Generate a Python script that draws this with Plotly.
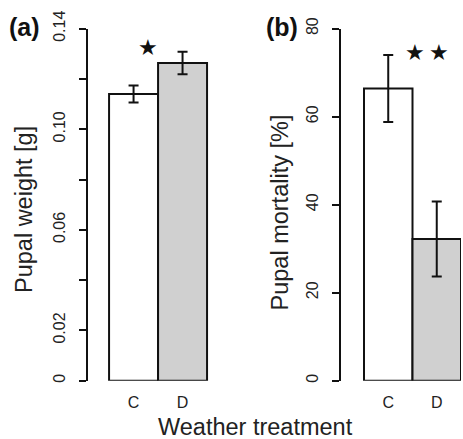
import plotly.graph_objects as go

categories = ["C", "D"]
weight_vals = [0.114, 0.1263]
weight_err = [0.0034, 0.0045]
mort_vals = [66.4, 32.2]
mort_err = [7.6, 8.5]
bar_colors = ["#ffffff", "#d0d0d0"]
weight_ticks = [0, 0.02, 0.04, 0.06, 0.08, 0.10, 0.12, 0.14]
weight_ticklabels = ["0", "0.02", "", "0.06", "", "0.10", "", "0.14"]
mort_ticks = [0, 20, 40, 60, 80]
mort_ticklabels = ["0", "20", "40", "60", "80"]

W, H = 463, 439
FONT = "Liberation Sans, Arial, Helvetica, sans-serif"

fig = go.Figure()
fig.add_trace(go.Bar(
    x=[0, 1], y=weight_vals, width=1,
    marker=dict(color=bar_colors, line=dict(color="#111111", width=2)),
    error_y=dict(type="data", array=weight_err, color="#111111", thickness=2, width=5),
    xaxis="x", yaxis="y", showlegend=False, hoverinfo="skip"))
fig.add_trace(go.Bar(
    x=[0, 1], y=mort_vals, width=1,
    marker=dict(color=bar_colors, line=dict(color="#111111", width=2)),
    error_y=dict(type="data", array=mort_err, color="#111111", thickness=2, width=5),
    xaxis="x2", yaxis="y2", showlegend=False, hoverinfo="skip"))

ybot = (H - 380.7) / H
ytop = (H - 28.6) / H

common_x = dict(tickmode="array", tickvals=[0, 1], ticktext=categories, showline=False,
                ticks="", showgrid=False, zeroline=False, automargin=False,
                tickfont=dict(family=FONT, size=16, color="#222222"), ticklabelstandoff=10)
common_y = dict(showline=True, linecolor="#111111", linewidth=2, ticks="outside", ticklen=7,
                tickwidth=2, tickcolor="#111111", showgrid=False, zeroline=False, automargin=False,
                tickangle=-90, ticklabelstandoff=8,
                tickfont=dict(family=FONT, size=16, color="#222222"))

fig.update_layout(
    template="none",
    width=W, height=H, margin=dict(l=0, r=0, t=0, b=0, pad=0),
    paper_bgcolor="white", plot_bgcolor="white", bargap=0,
    xaxis=dict(domain=[88 / W, 209.5 / W], range=[-0.93, 1.55], anchor="y", **common_x),
    yaxis=dict(domain=[ybot, ytop], range=[0, 0.14], anchor="x",
               tickmode="array", tickvals=weight_ticks, ticktext=weight_ticklabels, **common_y),
    xaxis2=dict(domain=[341 / W, 461 / W], range=[-0.974, 1.5], anchor="y2", **common_x),
    yaxis2=dict(domain=[ybot, ytop], range=[0, 80], anchor="x2",
                tickmode="array", tickvals=mort_ticks, ticktext=mort_ticklabels, **common_y),
)

ann_font = dict(family=FONT, size=23.5, color="#222222")
fig.add_annotation(text="Pupal weight [g]", xref="paper", yref="paper", x=24 / W, y=(H - 210) / H,
                   textangle=-90, showarrow=False, font=ann_font, xanchor="center", yanchor="middle")
fig.add_annotation(text="Pupal mortality [%]", xref="paper", yref="paper", x=279 / W, y=(H - 212.5) / H,
                   textangle=-90, showarrow=False, font=ann_font, xanchor="center", yanchor="middle")
fig.add_annotation(text="Weather treatment", xref="paper", yref="paper", x=255.5 / W, y=-3 / H,
                   showarrow=False, font=ann_font, xanchor="center", yanchor="bottom")
fig.add_annotation(text="<b>(a)</b>", xref="paper", yref="paper", x=24 / W, y=(H - 27) / H,
                   showarrow=False, font=dict(family=FONT, size=25, color="#111111"),
                   xanchor="center", yanchor="middle")
fig.add_annotation(text="<b>(b)</b>", xref="paper", yref="paper", x=282 / W, y=(H - 27) / H,
                   showarrow=False, font=dict(family=FONT, size=25, color="#111111"),
                   xanchor="center", yanchor="middle")
star_font = dict(family="DejaVu Sans", size=22, color="#111111")
fig.add_annotation(text="★", xref="x", yref="y", x=0.296, y=0.1323, showarrow=False, font=star_font)
fig.add_annotation(text="★", xref="x2", yref="y2", x=0.552, y=74.5, showarrow=False, font=star_font)
fig.add_annotation(text="★", xref="x2", yref="y2", x=1.046, y=74.5, showarrow=False, font=star_font)

fig.write_html("out.html", config={"displayModeBar": False, "staticPlot": True},
               post_script="document.body.style.margin='0';document.body.style.overflow='hidden';")
